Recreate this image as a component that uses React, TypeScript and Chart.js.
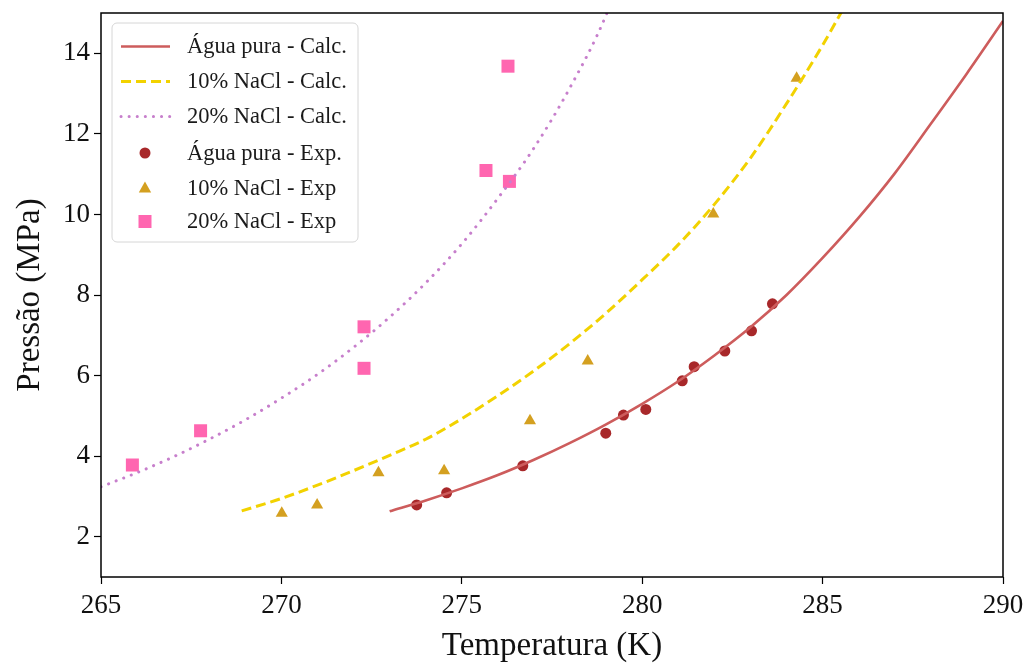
import React, { useEffect, useRef } from "react";
import { Chart, registerables } from "chart.js";

Chart.register(...registerables);

// ---- data ----
const xTicks = [265, 270, 275, 280, 285, 290];
const yTicks = [2, 4, 6, 8, 10, 12, 14];

// calculated curves
const aguaCalcT = [273.0, 274, 275, 276, 277, 278, 279, 280, 281, 282, 283, 284, 285, 286, 287, 288, 289, 290];
const aguaCalcP = [2.63, 2.9, 3.2, 3.53, 3.91, 4.33, 4.79, 5.3, 5.86, 6.5, 7.2, 8.0, 8.92, 9.92, 11.02, 12.25, 13.5, 14.8];

const nacl10CalcT = [268.9, 270, 271, 272, 273, 274, 275, 276, 277, 278, 279, 280, 281, 282, 283, 284, 285, 285.6];
const nacl10CalcP = [2.64, 2.95, 3.28, 3.64, 4.02, 4.42, 4.93, 5.5, 6.12, 6.8, 7.55, 8.38, 9.25, 10.25, 11.4, 12.75, 14.2, 15.15];

const nacl20CalcT = [265, 266, 267, 268, 269, 270, 271, 272, 273, 274, 275, 276, 277, 278, 279, 279.1];
const nacl20CalcP = [3.24, 3.59, 3.98, 4.42, 4.9, 5.44, 6.03, 6.7, 7.45, 8.3, 9.27, 10.4, 11.65, 13.15, 14.95, 15.2];

// experimental points
const aguaExpT = [273.75, 274.58, 276.69, 278.99, 279.48, 280.1, 281.11, 281.44, 282.29, 283.03, 283.61];
const aguaExpP = [2.79, 3.09, 3.76, 4.57, 5.02, 5.16, 5.87, 6.22, 6.61, 7.11, 7.78];

const nacl10ExpT = [270.01, 270.99, 272.69, 274.51, 276.89, 278.49, 281.97, 284.28];
const nacl10ExpP = [2.58, 2.79, 3.59, 3.64, 4.88, 6.36, 10.01, 13.38];

const nacl20ExpT = [265.87, 267.76, 272.29, 272.29, 275.67, 276.32, 276.28];
const nacl20ExpP = [3.78, 4.63, 7.21, 6.18, 11.09, 10.82, 13.68];

const labels = [
  "Água pura - Calc.",
  "10% NaCl - Calc.",
  "20% NaCl - Calc.",
  "Água pura - Exp.",
  "10% NaCl - Exp",
  "20% NaCl - Exp",
];

const FONT = '"Liberation Serif", "DejaVu Serif", "Times New Roman", serif';

const pts = (xs: number[], ys: number[]) => xs.map((x, i) => ({ x, y: ys[i] }));

const C_AGUA_LINE = "#cd5c5c";
const C_10_LINE = "#f2d200";
const C_20_LINE = "#c77fcc";
const C_AGUA_PT = "#a8282a";
const C_10_PT = "#d4a020";
const C_20_PT = "#ff66b0";

const framePlugin = {
  id: "frame",
  afterDatasetsDraw(chart: any) {
    const { ctx, chartArea: a } = chart;
    ctx.save();
    ctx.strokeStyle = "#000";
    ctx.lineWidth = 1.5;
    ctx.strokeRect(a.left, a.top, a.right - a.left, a.bottom - a.top);
    ctx.restore();
  },
};

const legendPlugin = {
  id: "customLegend",
  afterDraw(chart: any) {
    const ctx = chart.ctx as CanvasRenderingContext2D;
    const bx = 112, by = 23, bw = 246, bh = 219, r = 5;
    ctx.save();
    ctx.beginPath();
    ctx.moveTo(bx + r, by);
    ctx.arcTo(bx + bw, by, bx + bw, by + bh, r);
    ctx.arcTo(bx + bw, by + bh, bx, by + bh, r);
    ctx.arcTo(bx, by + bh, bx, by, r);
    ctx.arcTo(bx, by, bx + bw, by, r);
    ctx.closePath();
    ctx.fillStyle = "rgba(255,255,255,0.85)";
    ctx.fill();
    ctx.strokeStyle = "#d6d6d6";
    ctx.lineWidth = 1;
    ctx.stroke();

    const rowY = [46.5, 81.5, 116.5, 153, 188, 221.5];
    chart.data.datasets.forEach((ds: any, i: number) => {
      const y = rowY[i];
      if (ds.showLine) {
        ctx.save();
        ctx.strokeStyle = ds.borderColor;
        ctx.lineWidth = ds.borderWidth;
        ctx.lineCap = ds.borderCapStyle || "butt";
        ctx.setLineDash(ds.borderDash || []);
        ctx.beginPath();
        ctx.moveTo(121, y);
        ctx.lineTo(170, y);
        ctx.stroke();
        ctx.restore();
      } else {
        ctx.save();
        ctx.fillStyle = ds.backgroundColor;
        const cx = 145;
        ctx.beginPath();
        if (ds.pointStyle === "circle") {
          ctx.arc(cx, y, 5.5, 0, Math.PI * 2);
        } else if (ds.pointStyle === "triangle") {
          ctx.moveTo(cx, y - 6.5);
          ctx.lineTo(cx + 6.2, y + 4.5);
          ctx.lineTo(cx - 6.2, y + 4.5);
          ctx.closePath();
        } else {
          ctx.rect(cx - 6.5, y - 6.5, 13, 13);
        }
        ctx.fill();
        ctx.restore();
      }
      ctx.fillStyle = "#1a1a1a";
      ctx.font = `22.5px ${FONT}`;
      ctx.textBaseline = "middle";
      ctx.textAlign = "left";
      ctx.fillText(ds.label, 187, y + 1);
    });
    ctx.restore();
  },
};

export default function App() {
  const ref = useRef<HTMLCanvasElement | null>(null);

  useEffect(() => {
    document.body.style.margin = "0";
    const canvas = ref.current;
    if (!canvas) return;

    const lineDs = (label: string, xs: number[], ys: number[], color: string, width: number, dash: number[], cap: string) => ({
      type: "scatter" as const,
      label,
      data: pts(xs, ys),
      showLine: true,
      borderColor: color,
      backgroundColor: color,
      borderWidth: width,
      borderDash: dash,
      borderCapStyle: cap,
      pointRadius: 0,
      pointHoverRadius: 0,
      cubicInterpolationMode: "monotone",
      fill: false,
    });

    const ptDs = (label: string, xs: number[], ys: number[], color: string, style: string, radius: number) => ({
      type: "scatter" as const,
      label,
      data: pts(xs, ys),
      showLine: false,
      pointStyle: style,
      pointRadius: radius,
      pointHoverRadius: radius,
      backgroundColor: color,
      borderColor: color,
      pointBorderWidth: 0,
      borderWidth: 0,
    });

    const chart = new Chart(canvas, {
      type: "scatter",
      data: {
        datasets: [
          lineDs(labels[0], aguaCalcT, aguaCalcP, C_AGUA_LINE, 2.6, [], "butt"),
          lineDs(labels[1], nacl10CalcT, nacl10CalcP, C_10_LINE, 3, [10, 5], "butt"),
          lineDs(labels[2], nacl20CalcT, nacl20CalcP, C_20_LINE, 3, [0.1, 8], "round"),
          ptDs(labels[3], aguaExpT, aguaExpP, C_AGUA_PT, "circle", 5.5),
          ptDs(labels[4], nacl10ExpT, nacl10ExpP, C_10_PT, "triangle", 7),
          ptDs(labels[5], nacl20ExpT, nacl20ExpP, C_20_PT, "rect", 9.2),
        ] as any,
      },
      options: {
        animation: false,
        responsive: false,
        devicePixelRatio: 1,
        layout: { padding: { left: 0, top: 13, right: 30, bottom: 0 } },
        plugins: {
          legend: { display: false },
          tooltip: { enabled: false },
        },
        scales: {
          x: {
            type: "linear",
            min: 265,
            max: 290,
            afterBuildTicks: (s: any) => {
              s.ticks = xTicks.map((v) => ({ value: v }));
            },
            afterFit: (s: any) => {
              s.height = 89;
              s.paddingLeft = 0;
              s.paddingRight = 0;
            },
            grid: {
              drawOnChartArea: false,
              drawTicks: true,
              tickLength: 7,
              tickColor: "#000",
              tickWidth: 1.2,
            },
            border: { display: false },
            ticks: {
              color: "#111",
              font: { family: FONT, size: 27 },
              padding: 6,
              maxRotation: 0,
            },
            title: {
              display: true,
              text: "Temperatura (K)",
              color: "#111",
              font: { family: FONT, size: 33 },
              padding: { top: 0, bottom: 0 },
            },
          },
          y: {
            type: "linear",
            min: 1,
            max: 15,
            afterBuildTicks: (s: any) => {
              s.ticks = yTicks.map((v) => ({ value: v }));
            },
            afterFit: (s: any) => {
              s.width = 101;
              s.paddingTop = 0;
              s.paddingBottom = 0;
            },
            grid: {
              drawOnChartArea: false,
              drawTicks: true,
              tickLength: 7,
              tickColor: "#000",
              tickWidth: 1.2,
            },
            border: { display: false },
            ticks: {
              color: "#111",
              font: { family: FONT, size: 27 },
              padding: 4,
            },
            title: {
              display: true,
              text: "Pressão (MPa)",
              color: "#111",
              font: { family: FONT, size: 33 },
              padding: { top: 11, bottom: 0 },
            },
          },
        },
      } as any,
      plugins: [framePlugin, legendPlugin],
    });

    return () => chart.destroy();
  }, []);

  return (
    <div style={{ position: "absolute", left: 0, top: 0, width: 1033, height: 666, background: "#fff" }}>
      <canvas ref={ref} width={1033} height={666} style={{ display: "block" }} />
    </div>
  );
}
